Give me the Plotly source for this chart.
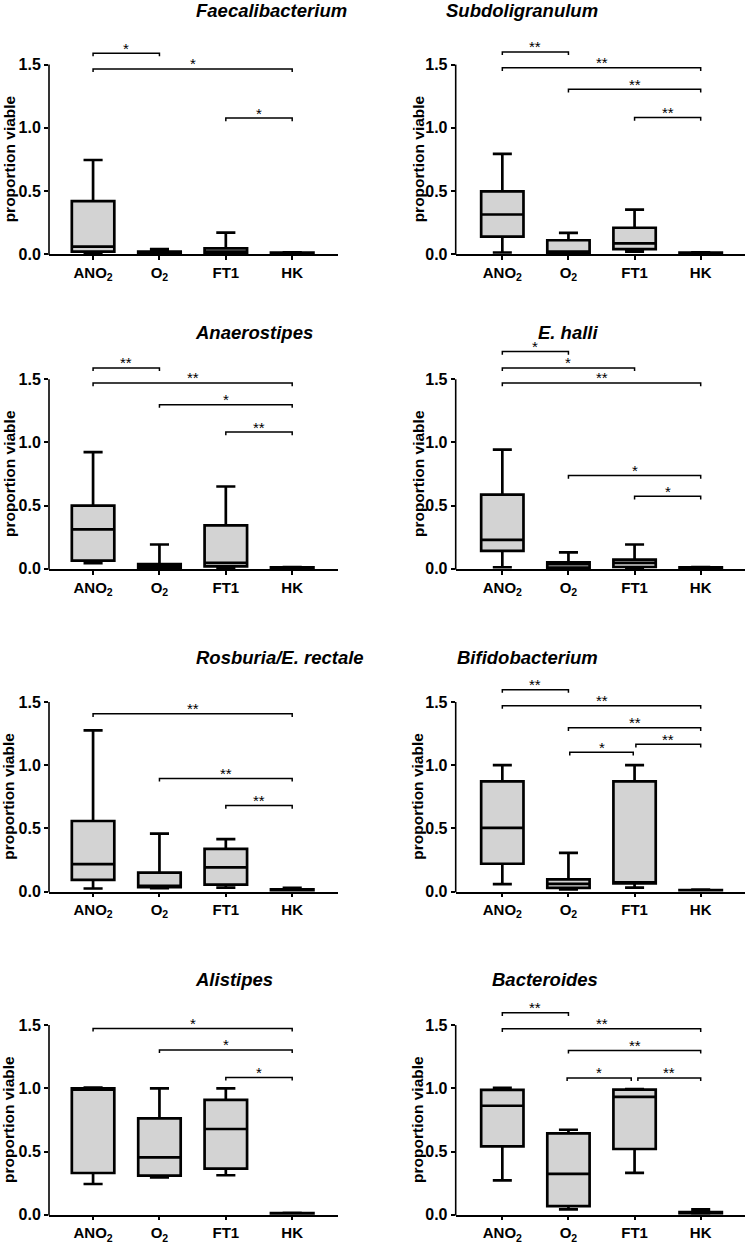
import plotly.graph_objects as go

# groups on the x axis
categories = ["ANO2", "O2", "FT1", "HK"]
tick_labels = ["ANO<sub>2</sub>", "O<sub>2</sub>", "FT1", "HK"]
y_ticks = [0, 0.5, 1.0, 1.5]
y_tick_labels = ["0.0", "0.5", "1.0", "1.5"]

titles = [
    "Faecalibacterium", "Subdoligranulum",
    "Anaerostipes", "E. halli",
    "Rosburia/E. rectale", "Bifidobacterium",
    "Alistipes", "Bacteroides",
]

# box stats (min-to-max whiskers), one value per group
faecalibacterium = {
    "min": [0.005, 0.0, 0.005, 0.003],
    "q1": [0.02, 0.005, 0.01, 0.005],
    "median": [0.06, 0.01, 0.02, 0.008],
    "q3": [0.42, 0.02, 0.045, 0.012],
    "max": [0.745, 0.04, 0.17, 0.015],
}
subdoligranulum = {
    "min": [0.013, 0.0, 0.02, 0.003],
    "q1": [0.139, 0.005, 0.04, 0.005],
    "median": [0.314, 0.02, 0.086, 0.008],
    "q3": [0.497, 0.11, 0.209, 0.012],
    "max": [0.793, 0.168, 0.353, 0.015],
}
anaerostipes = {
    "min": [0.045, 0.005, 0.01, 0.003],
    "q1": [0.065, 0.01, 0.02, 0.005],
    "median": [0.313, 0.02, 0.047, 0.008],
    "q3": [0.50, 0.037, 0.344, 0.012],
    "max": [0.924, 0.193, 0.652, 0.015],
}
e_halli = {
    "min": [0.013, 0.005, 0.01, 0.003],
    "q1": [0.143, 0.01, 0.015, 0.005],
    "median": [0.23, 0.037, 0.047, 0.008],
    "q3": [0.587, 0.052, 0.073, 0.012],
    "max": [0.944, 0.13, 0.193, 0.015],
}
rosburia = {
    "min": [0.024, 0.026, 0.031, 0.005],
    "q1": [0.092, 0.034, 0.055, 0.008],
    "median": [0.217, 0.045, 0.191, 0.012],
    "q3": [0.558, 0.149, 0.338, 0.018],
    "max": [1.275, 0.458, 0.414, 0.029],
}
bifidobacterium = {
    "min": [0.058, 0.016, 0.031, 0.003],
    "q1": [0.22, 0.029, 0.065, 0.005],
    "median": [0.503, 0.06, 0.07, 0.008],
    "q3": [0.872, 0.097, 0.872, 0.012],
    "max": [1.0, 0.306, 1.0, 0.015],
}
alistipes = {
    "min": [0.243, 0.296, 0.312, 0.003],
    "q1": [0.33, 0.309, 0.364, 0.005],
    "median": [0.99, 0.453, 0.678, 0.008],
    "q3": [1.0, 0.762, 0.908, 0.012],
    "max": [1.005, 1.0, 1.0, 0.015],
}
bacteroides = {
    "min": [0.271, 0.042, 0.331, 0.005],
    "q1": [0.541, 0.068, 0.52, 0.01],
    "median": [0.862, 0.323, 0.932, 0.015],
    "q3": [0.988, 0.644, 0.99, 0.02],
    "max": [1.003, 0.672, 0.993, 0.042],
}
panels = [faecalibacterium, subdoligranulum, anaerostipes, e_halli,
          rosburia, bifidobacterium, alistipes, bacteroides]

# significance brackets: (from group, to group, height, label)
sig_faecalibacterium = [(0, 1, 1.59, "*"), (0, 3, 1.466, "*"), (2, 3, 1.077, "*")]
sig_subdoligranulum = [(0, 1, 1.60, "**"), (0, 3, 1.474, "**"), (1, 3, 1.304, "**"), (2, 3, 1.081, "**")]
sig_anaerostipes = [(0, 1, 1.59, "**"), (0, 3, 1.471, "**"), (1, 3, 1.299, "*"), (2, 3, 1.083, "**")]
sig_e_halli = [(0, 1, 1.72, "*"), (0, 2, 1.59, "*"), (0, 3, 1.471, "**"), (1, 3, 0.738, "*"), (2, 3, 0.574, "*")]
sig_rosburia = [(0, 3, 1.406, "**"), (1, 3, 0.895, "**"), (2, 3, 0.681, "**")]
sig_bifidobacterium = [(0, 1, 1.597, "**"), (0, 3, 1.471, "**"), (1, 3, 1.296, "**"),
                       (2.02, 3, 1.165, "**"), (1.02, 1.98, 1.102, "*")]
sig_alistipes = [(0, 3, 1.474, "*"), (1, 3, 1.304, "*"), (2, 3, 1.086, "*")]
sig_bacteroides = [(0, 1, 1.597, "**"), (0, 3, 1.471, "**"), (1, 3, 1.30, "**"),
                   (0.98, 1.95, 1.082, "*"), (2.05, 3, 1.082, "**")]
sigs = [sig_faecalibacterium, sig_subdoligranulum, sig_anaerostipes, sig_e_halli,
        sig_rosburia, sig_bifidobacterium, sig_alistipes, sig_bacteroides]

# %%
# page geometry (pixels)
W, H = 748, 1251
Y_TOP = 1.85
PX_PER_UNIT = 127.3
row_zero_px = [256, 573, 898, 1223.5]
title_px = [10.5, 335, 662, 987]
col_px = [(49, 338), (455.7, 745)]
col_range = [(-0.664, 3.69), (-0.705, 3.67)]
ytitle_px = [9, 418]

FONT = "Liberation Sans, Arial, sans-serif"

fig = go.Figure()
layout = {}
shapes = []
annotations = []

for n, (stats, title, sig) in enumerate(zip(panels, titles, sigs), start=1):
    r, c = (n - 1) // 2, (n - 1) % 2
    sx = "" if n == 1 else str(n)
    xa, ya = "x" + sx, "y" + sx

    bottom = (H - row_zero_px[r]) / H
    top = bottom + Y_TOP * PX_PER_UNIT / H
    x0p, x1p = col_px[c][0] / W, col_px[c][1] / W

    fig.add_trace(go.Box(
        x=list(range(len(categories))),
        lowerfence=stats["min"], q1=stats["q1"], median=stats["median"],
        q3=stats["q3"], upperfence=stats["max"],
        fillcolor="#d3d3d3",
        line=dict(color="black", width=2.7),
        width=0.64, whiskerwidth=0.45,
        boxpoints=False, showlegend=False,
        xaxis=xa, yaxis=ya,
    ))

    layout["xaxis" + sx] = dict(
        domain=[x0p, x1p], range=list(col_range[c]), anchor=ya,
        tickvals=list(range(len(categories))), ticktext=tick_labels,
        ticks="outside", ticklen=4, tickwidth=1.5, tickcolor="black",
        showline=True, linecolor="black", linewidth=1.6,
        showgrid=False, zeroline=False,
        tickfont=dict(family=FONT, size=15, color="black", weight="bold"),
    )
    layout["yaxis" + sx] = dict(
        domain=[bottom, top], range=[0, Y_TOP], anchor=xa,
        tickvals=y_ticks, ticktext=y_tick_labels,
        ticks="outside", ticklen=4, tickwidth=1.5, tickcolor="black",
        showline=False, showgrid=False, zeroline=False,
        tickfont=dict(family=FONT, size=16, color="black", weight="bold"),
    )

    # y axis line only runs up to 1.5
    shapes.append(dict(
        type="line", xref="paper", yref="paper",
        x0=x0p, x1=x0p, y0=bottom - 0.8 / H, y1=bottom + 1.5 * PX_PER_UNIT / H,
        line=dict(color="black", width=1.6),
    ))

    d = 0.025
    for i, j, yv, lab in sig:
        shapes.append(dict(
            type="path", xref=xa, yref=ya,
            path=f"M{i},{yv - d} L{i},{yv} L{j},{yv} L{j},{yv - d}",
            line=dict(color="black", width=1.5),
        ))
        annotations.append(dict(
            x=(i + j) / 2, y=yv, xref=xa, yref=ya, text=lab,
            showarrow=False, yanchor="middle", yshift=5,
            font=dict(family=FONT, size=15, color="black"),
        ))

    annotations.append(dict(
        x=(x0p + x1p) / 2, y=1 - title_px[r] / H, xref="paper", yref="paper",
        text=f"<b><i>{title}</i></b>", showarrow=False, yanchor="middle",
        font=dict(family=FONT, size=18.5, color="black"),
    ))
    annotations.append(dict(
        x=ytitle_px[c] / W, y=0.75, xref="paper", yref=ya,
        text="<b>proportion viable</b>", textangle=-90, showarrow=False,
        xanchor="center", yanchor="middle",
        font=dict(family=FONT, size=15.5, color="black"),
    ))

fig.update_layout(
    **layout,
    shapes=shapes,
    annotations=annotations,
    width=W, height=H,
    margin=dict(l=0, r=0, t=0, b=0),
    plot_bgcolor="white", paper_bgcolor="white",
    font=dict(family=FONT, color="black"),
)

# drop the default 8px page margin so the figure fills the window
fig.write_html(
    "out.html",
    config={"displayModeBar": False},
    post_script="document.body.style.margin = '0';",
)
